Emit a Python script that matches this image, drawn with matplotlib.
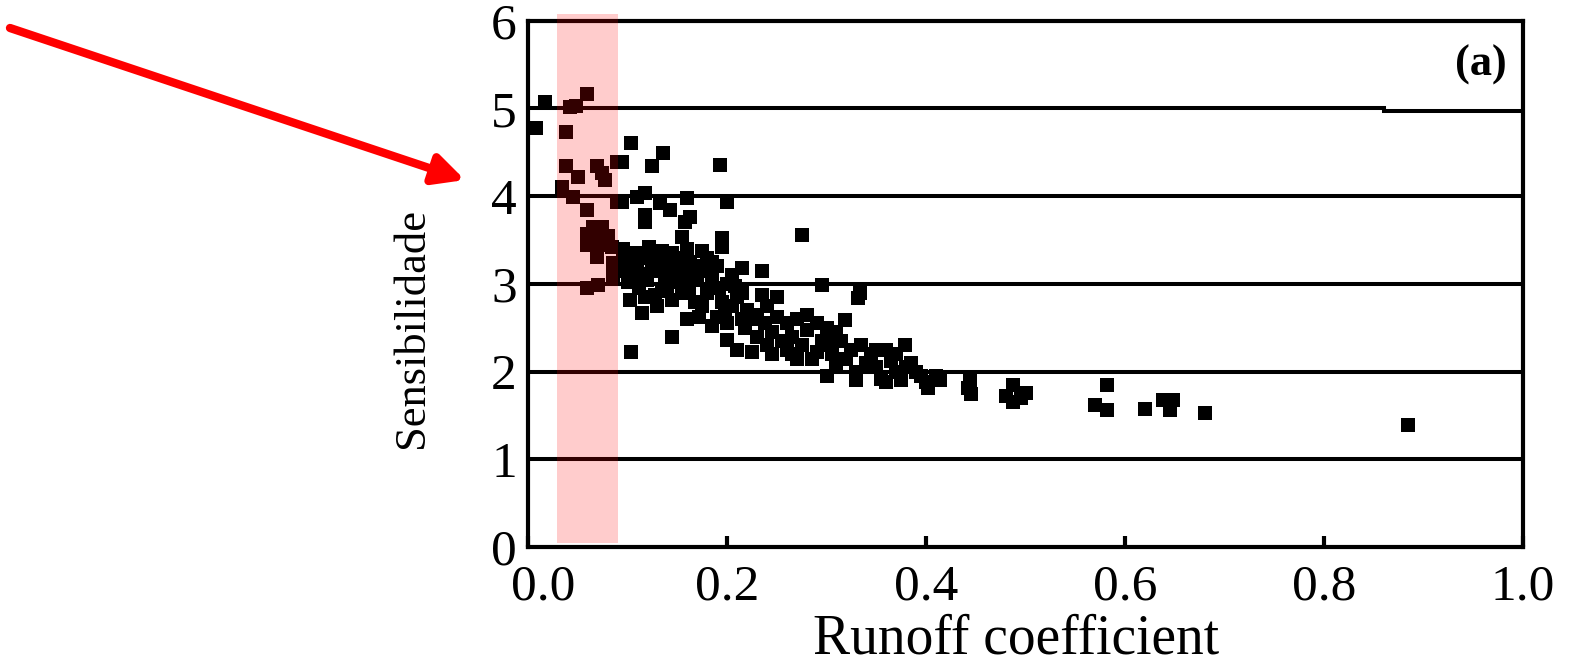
import matplotlib
matplotlib.use('Agg')
import matplotlib.pyplot as plt
import matplotlib.transforms as mtransforms
from matplotlib.patches import Rectangle

plt.rcParams['font.family'] = ['Liberation Serif', 'DejaVu Serif']

# scatter points (runoff coefficient, sensibilidade)
runoff = [
    0.008, 0.017, 0.042, 0.048, 0.059, 0.038, 0.038, 0.034, 0.045, 0.050,
    0.059, 0.069, 0.074, 0.077, 0.065, 0.074, 0.059, 0.072, 0.059, 0.072,
    0.069, 0.084, 0.085, 0.085, 0.070, 0.059, 0.089, 0.089, 0.080,
    0.094, 0.094, 0.103, 0.136, 0.125, 0.110, 0.118, 0.118, 0.133, 0.143,
    0.160, 0.163, 0.118, 0.158, 0.155, 0.193, 0.200, 0.275, 0.195, 0.195,
    0.095, 0.095, 0.095, 0.100, 0.102, 0.108, 0.110, 0.108, 0.112, 0.122,
    0.122, 0.125, 0.120, 0.128, 0.135, 0.138, 0.138, 0.140, 0.145, 0.150,
    0.152, 0.150, 0.155, 0.160, 0.163, 0.165, 0.162, 0.168, 0.115, 0.103,
    0.145, 0.130,
    0.103, 0.116, 0.130, 0.145, 0.157, 0.170, 0.118, 0.135,
    0.175, 0.180, 0.178, 0.185, 0.180, 0.175, 0.172, 0.190, 0.192, 0.195,
    0.198, 0.205, 0.208, 0.210, 0.200, 0.215, 0.220, 0.218, 0.225, 0.230,
    0.235, 0.235, 0.238, 0.240, 0.245, 0.250, 0.250, 0.190, 0.185, 0.160,
    0.170, 0.200, 0.210, 0.225, 0.245,
    0.185, 0.200, 0.215, 0.205, 0.230, 0.240, 0.215,
    0.260, 0.265, 0.270, 0.275, 0.280, 0.285, 0.290, 0.295, 0.295, 0.300,
    0.305, 0.310, 0.315, 0.319, 0.320, 0.325, 0.330, 0.332, 0.334, 0.335,
    0.340, 0.270, 0.255, 0.280, 0.260, 0.300, 0.290, 0.265, 0.300, 0.310,
    0.345, 0.350, 0.355, 0.360, 0.365, 0.370, 0.375, 0.379, 0.385, 0.390,
    0.395, 0.400, 0.402, 0.410, 0.414, 0.350, 0.330, 0.360, 0.370, 0.380,
    0.442, 0.444, 0.445, 0.487, 0.500, 0.487, 0.495, 0.480, 0.570, 0.582,
    0.582, 0.620, 0.638, 0.645, 0.648, 0.680, 0.884,
]
sensib = [
    4.78, 5.08, 5.02, 5.03, 5.17, 4.73, 4.35, 4.11, 3.99, 4.22,
    3.84, 4.35, 4.27, 4.19, 3.65, 3.65, 3.57, 3.57, 3.45, 3.45,
    3.31, 3.42, 3.24, 3.10, 2.99, 2.95, 4.39, 3.93, 3.55,
    4.39, 3.93, 4.61, 4.49, 4.35, 3.99, 4.04, 3.79, 3.92, 3.84,
    3.98, 3.76, 3.71, 3.71, 3.54, 4.36, 3.94, 3.56, 3.52, 3.42,
    3.40, 3.28, 3.15, 3.02, 2.82, 3.35, 3.22, 3.08, 2.95, 3.42,
    3.30, 3.15, 3.05, 2.88, 3.38, 3.25, 3.10, 2.98, 2.82, 3.30,
    3.18, 3.02, 2.90, 3.40, 3.25, 3.12, 2.95, 2.80, 2.67, 2.22,
    2.40, 2.75,
    3.35, 3.12, 3.22, 3.35, 3.05, 3.20, 2.85, 2.92,
    3.38, 3.30, 3.15, 3.05, 2.90, 2.75, 2.62, 3.20, 2.95, 2.80,
    2.65, 3.10, 2.98, 2.85, 2.55, 3.18, 2.70, 2.50, 2.60, 2.40,
    2.88, 3.15, 2.55, 2.30, 2.45, 2.85, 2.62, 2.62, 2.52, 2.60,
    3.05, 2.36, 2.25, 2.22, 2.20,
    3.25, 3.00, 2.90, 2.75, 2.65, 2.75, 2.60,
    2.55, 2.40, 2.60, 2.30, 2.48, 2.15, 2.55, 2.35, 2.99, 2.50,
    2.20, 2.05, 2.35, 2.59, 2.15, 2.25, 2.00, 2.84, 2.90, 2.30,
    2.10, 2.15, 2.35, 2.65, 2.25, 1.95, 2.22, 2.20, 2.30, 2.45,
    2.20, 2.05, 1.92, 2.25, 2.12, 2.00, 1.90, 2.30, 2.10, 2.00,
    1.95, 1.88, 1.81, 1.95, 1.90, 2.25, 1.90, 1.88, 2.20, 2.05,
    1.81, 1.90, 1.75, 1.85, 1.76, 1.65, 1.70, 1.72, 1.62, 1.85,
    1.56, 1.58, 1.68, 1.56, 1.68, 1.53, 1.39,
]

grid_levels = [1, 2, 3, 4]
# the line at 5 has a small step near the right end
line5_x = [0.0, 0.86, 0.86, 1.0]
line5_y = [5.007, 5.007, 4.97, 4.97]

x_ticks = [0.0, 0.2, 0.4, 0.6, 0.8, 1.0]
x_ticklabels = ['0.0', '0.2', '0.4', '0.6', '0.8', '1.0']
y_ticks = [0, 1, 2, 3, 4, 5, 6]

highlight = (0.029, 0.090)  # pink band on the x axis

fig = plt.figure(figsize=(15.73, 6.57), dpi=100)
ax = fig.add_axes([0.3357, 0.1674, 0.6325, 0.8006])

for level in grid_levels:
    ax.axhline(level, color='black', lw=2.9, zorder=1)
ax.plot(line5_x, line5_y, color='black', lw=2.9, zorder=1, solid_joinstyle='miter')

ax.scatter(runoff, sensib, marker='s', s=115, color='black', linewidths=0, zorder=3)

ax.set_xlim(0, 1.0)
ax.set_ylim(0, 6)
ax.set_xticks(x_ticks)
ax.set_xticklabels(x_ticklabels)
ax.set_yticks(y_ticks)
ax.tick_params(direction='in', length=8, width=3, labelsize=37, colors='black')
ax.tick_params(axis='x', pad=12)
ax.tick_params(axis='y', pad=8, length=0)
for spine in ax.spines.values():
    spine.set_linewidth(3)

# first x label sits a bit to the right in the reference
offset = mtransforms.ScaledTranslation(15 / 100, 0, fig.dpi_scale_trans)
first = ax.get_xticklabels()[0]
first.set_transform(first.get_transform() + offset)

ax.set_xlabel('Runoff coefficient', fontsize=40)
ax.xaxis.label.set_va('baseline')
ax.xaxis.set_label_coords(0.49, -0.202)
ax.set_ylabel('Sensibilidade', fontsize=32)
ax.yaxis.set_label_coords(-0.0965, 0.416)

ax.text(0.984, 0.916, '(a)', transform=ax.transAxes, ha='right', va='center',
        fontsize=32, fontweight='bold')

rect = Rectangle((highlight[0], 0.05), highlight[1] - highlight[0], 6.03,
                 facecolor='red', alpha=0.2, edgecolor='none', zorder=5, clip_on=False)
ax.add_patch(rect)

# red arrow pointing at the y axis
ax.annotate('', xy=(465, 657 - 180), xycoords='figure pixels',
            xytext=(10, 657 - 28), textcoords='figure pixels',
            arrowprops=dict(arrowstyle='-|>', color='red', lw=6,
                            mutation_scale=45, shrinkA=0, shrinkB=0))

fig.savefig('out.png', dpi=100)
